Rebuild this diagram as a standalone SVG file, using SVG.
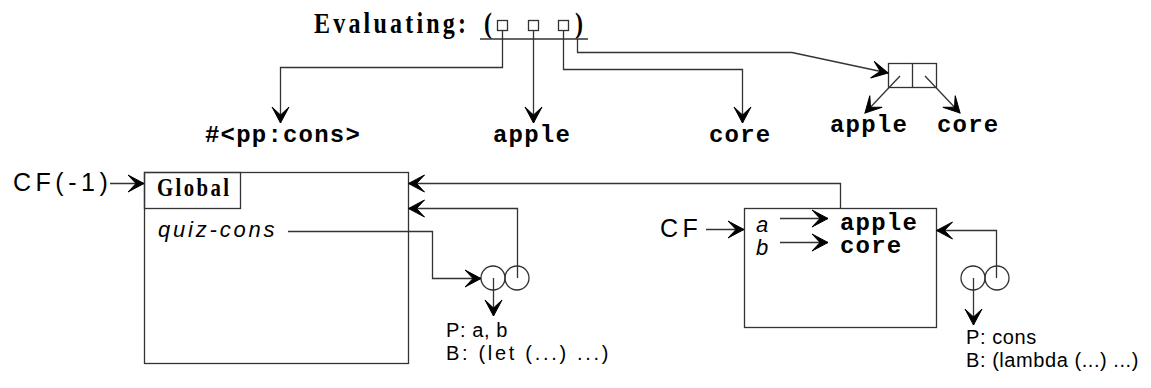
<svg xmlns="http://www.w3.org/2000/svg" width="1151" height="388" viewBox="0 0 1151 388">
<style>
.ln{fill:none;stroke:#333;stroke-width:1.3}
.bx{fill:none;stroke:#333;stroke-width:1.3}
.mono{font-family:"Liberation Mono","Courier New",monospace;font-weight:bold;font-size:24px;letter-spacing:1.2px;fill:#000}
.sans{font-family:"Liberation Sans",Arial,sans-serif;font-size:20px;letter-spacing:0.6px;fill:#000}
.big{font-family:"Liberation Sans",Arial,sans-serif;font-size:25px;letter-spacing:4.5px;fill:#000}
.it{font-family:"Liberation Sans",Arial,sans-serif;font-style:italic;font-size:22px;letter-spacing:2.8px;fill:#000}
.ser{font-family:"Liberation Serif","Times New Roman",serif;font-weight:bold;fill:#000}
</style>
<defs>
<marker id="ah" viewBox="-18 -10 20 20" markerWidth="20" markerHeight="20" refX="0" refY="0" orient="auto" markerUnits="userSpaceOnUse">
<path d="M0,0 L-16,-8.5 L-8,0 L-16,8.5 Z" fill="#000" stroke="#000" stroke-width="1" stroke-linejoin="miter"/>
</marker>
</defs>

<g id="header">
<text class="ser" font-size="30" letter-spacing="4" transform="translate(314,33) scale(0.8,1)">Evaluating:</text>
<text class="ser" font-size="30" transform="translate(484,33) scale(0.8,1)">(</text>
<text class="ser" font-size="30" transform="translate(575,33) scale(0.8,1)">)</text>
<rect class="bx" x="497.5" y="20.5" width="10" height="10"/>
<rect class="bx" x="528.5" y="20.5" width="10" height="10"/>
<rect class="bx" x="558.5" y="20.5" width="10" height="10"/>
<line class="ln" x1="480" y1="39" x2="588" y2="39" stroke="#000"/>
</g>

<g id="values">
<text class="mono" x="205" y="142">#&lt;pp:cons&gt;</text>
<text class="mono" x="493" y="142">apple</text>
<text class="mono" x="709" y="142">core</text>
</g>

<g id="conscell">
<rect class="bx" x="888.5" y="63.5" width="48" height="24"/>
<line class="ln" x1="912.5" y1="63.5" x2="912.5" y2="87.5"/>
<text class="mono" x="830" y="132">apple</text>
<text class="mono" x="937" y="132">core</text>
</g>

<g id="global">
<rect class="bx" x="144.5" y="172.5" width="264" height="191"/>
<rect class="bx" x="144.5" y="172.5" width="96" height="36"/>
<text class="ser" font-size="26" letter-spacing="3" transform="translate(157,196) scale(0.8,1)">Global</text>
<text class="it" x="158" y="237">quiz-cons</text>
</g>

<g id="cf-1">
<text class="big" x="13" y="191">CF(-1)</text>
</g>

<g id="frame">
<rect class="bx" x="744.5" y="208.5" width="192" height="119"/>
<text class="big" x="660" y="237">CF</text>
<text class="it" x="756" y="232" letter-spacing="0">a</text>
<text class="it" x="756" y="255" letter-spacing="0">b</text>
<text class="mono" x="840" y="230" font-size="22" letter-spacing="2">apple</text>
<text class="mono" x="840" y="253" font-size="22" letter-spacing="2">core</text>
</g>

<g id="proc1">
<circle class="bx" cx="493" cy="278" r="12"/>
<circle class="bx" cx="517" cy="278" r="12"/>
<text class="sans" x="446" y="337">P: a, b</text>
<text class="sans" x="446" y="360" textLength="163" lengthAdjust="spacing">B: (let (...) ...)</text>
</g>

<g id="proc2">
<circle class="bx" cx="973" cy="278" r="12"/>
<circle class="bx" cx="997" cy="278" r="12"/>
<text class="sans" x="966" y="344">P: cons</text>
<text class="sans" x="966" y="367" textLength="173" lengthAdjust="spacing">B: (lambda (...) ...)</text>
</g>

<g id="connectors">
<polyline class="ln" points="502.5,30.5 502.5,67.5 280.5,67.5 280.5,123" marker-end="url(#ah)"/>
<polyline class="ln" points="533.5,30.5 533.5,123" marker-end="url(#ah)"/>
<polyline class="ln" points="563.5,30.5 563.5,69.5 742.5,69.5 742.5,123" marker-end="url(#ah)"/>
<polyline class="ln" points="577.5,39 577.5,52.5 792,52.5 888,73" marker-end="url(#ah)"/>
<line class="ln" x1="900" y1="76" x2="865" y2="113" marker-end="url(#ah)"/>
<line class="ln" x1="925" y1="76" x2="960" y2="113" marker-end="url(#ah)"/>
<line class="ln" x1="110" y1="183.5" x2="144" y2="183.5" marker-end="url(#ah)"/>
<polyline class="ln" points="840.5,208.5 840.5,183.5 408.5,183.5" marker-end="url(#ah)"/>
<polyline class="ln" points="517.5,278 517.5,208.5 408.5,208.5" marker-end="url(#ah)"/>
<polyline class="ln" points="288,231.5 432.5,231.5 432.5,278.5 481,278.5" marker-end="url(#ah)"/>
<line class="ln" x1="493.5" y1="278" x2="493.5" y2="316" marker-end="url(#ah)"/>
<line class="ln" x1="706" y1="229.5" x2="744" y2="229.5" marker-end="url(#ah)"/>
<line class="ln" x1="780" y1="218.5" x2="828" y2="218.5" marker-end="url(#ah)"/>
<line class="ln" x1="780" y1="242.5" x2="828" y2="242.5" marker-end="url(#ah)"/>
<polyline class="ln" points="996.5,278 996.5,230.5 936.5,230.5" marker-end="url(#ah)"/>
<line class="ln" x1="973.5" y1="278" x2="973.5" y2="325" marker-end="url(#ah)"/>
</g>
</svg>
